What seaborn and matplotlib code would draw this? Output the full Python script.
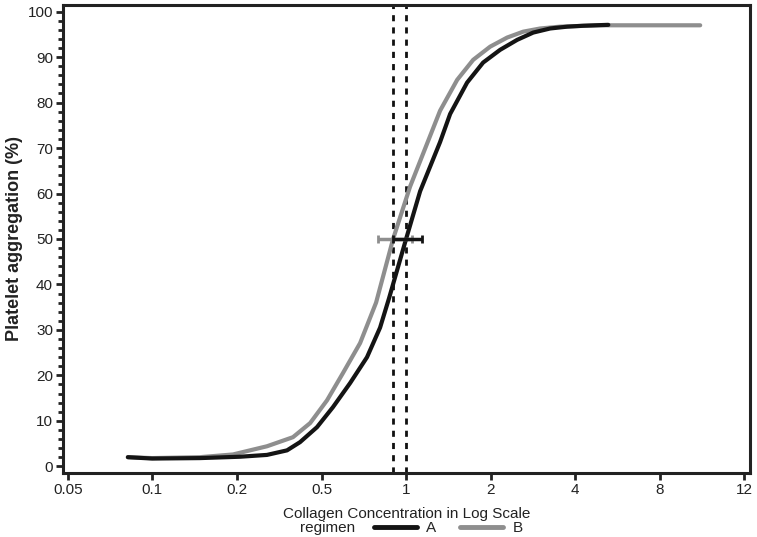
import numpy as np
import pandas as pd
import seaborn as sns
import matplotlib.pyplot as plt
from matplotlib.lines import Line2D

sns.set_style("ticks")
plt.rcParams['font.family'] = ['Liberation Sans Narrow', 'Liberation Sans', 'DejaVu Sans']

# tick values on the (ordinal) log axis
tick_values = [0.05, 0.1, 0.2, 0.5, 1, 2, 4, 8, 12]
tick_labels = ["0.05", "0.1", "0.2", "0.5", "1", "2", "4", "8", "12"]

# fitted curves
conc_a = [0.0818, 0.0998, 0.1476, 0.2067, 0.2768, 0.344, 0.396, 0.476, 0.549, 0.632,
          0.726, 0.808, 0.870, 1.0, 1.122, 1.321, 1.435, 1.649, 1.880, 2.161,
          2.486, 2.835, 3.258, 3.745, 4.27, 5.245]
aggr_a = [2.0, 1.7, 1.8, 2.1, 2.5, 3.5, 5.3, 8.6, 13.0, 18.3,
          24.0, 30.5, 37.0, 50.0, 60.5, 71.3, 77.5, 84.4, 88.8, 91.6,
          93.8, 95.4, 96.3, 96.7, 96.9, 97.1]
conc_b = [0.0818, 0.0998, 0.1476, 0.1936, 0.2768, 0.367, 0.442, 0.523, 0.596, 0.686,
          0.782, 0.899, 1.033, 1.197, 1.321, 1.52, 1.733, 1.992, 2.289,
          2.612, 3.002, 3.535, 4.910, 9.71]
aggr_b = [2.0, 1.8, 2.0, 2.6, 4.4, 6.4, 9.5, 14.5, 20.5, 27.1,
          36.0, 50.0, 61.5, 71.5, 78.2, 85.0, 89.4, 92.3, 94.3,
          95.6, 96.3, 96.7, 97.0, 97.0]

# EC50 with confidence interval
regimens = ["A", "B"]
ec50 = [1.0, 0.899]
ci_low = [0.899, 0.795]
ci_high = [1.14, 1.05]
colors = {"A": "#141414", "B": "#8e8e8e"}

df = pd.concat([
    pd.DataFrame({"conc": conc_a, "aggr": aggr_a, "regimen": "A"}),
    pd.DataFrame({"conc": conc_b, "aggr": aggr_b, "regimen": "B"}),
])

# axis spacing: each tick value one unit apart, log-interpolated in between
lt = np.log(tick_values)
idx = np.arange(len(tick_values), dtype=float)


def fwd(x):
    lx = np.log(np.clip(np.asarray(x, dtype=float), 1e-9, None))
    v = np.interp(lx, lt, idx)
    v = np.where(lx < lt[0], (lx - lt[0]) / (lt[1] - lt[0]), v)
    v = np.where(lx > lt[-1], idx[-1] + (lx - lt[-1]) / (lt[-1] - lt[-2]), v)
    return v


def inv(v):
    v = np.asarray(v, dtype=float)
    lx = np.interp(v, idx, lt)
    lx = np.where(v < 0, lt[0] + v * (lt[1] - lt[0]), lx)
    lx = np.where(v > idx[-1], lt[-1] + (v - idx[-1]) * (lt[-1] - lt[-2]), lx)
    return np.exp(lx)


fig = plt.figure(figsize=(7.57, 5.37), dpi=100)
ax = fig.add_axes([0.083, 0.119, 0.908, 0.872])
ax.set_xscale("function", functions=(fwd, inv))

sns.lineplot(data=df[df.regimen == "B"], x="conc", y="aggr", color=colors["B"],
             lw=3, sort=False, ax=ax, legend=False, zorder=3)
sns.lineplot(data=df[df.regimen == "A"], x="conc", y="aggr", color=colors["A"],
             lw=3, sort=False, ax=ax, legend=False, zorder=4)
for ln in ax.lines:
    ln.set_solid_joinstyle("round")

for e in ec50:
    ax.axvline(e, color="#111111", lw=2, ls=(0, (2.2, 2.2)), zorder=2)
for r, e, lo, hi in zip(regimens[::-1], ec50[::-1], ci_low[::-1], ci_high[::-1]):
    ax.errorbar([e], [50], xerr=[[e - lo], [hi - e]], color=colors[r], lw=2.5,
                capsize=3, capthick=2, fmt="none", zorder=5)

ax.set_xlim(0.048, 12.34)
ax.set_ylim(-1.5, 101.5)
ax.set_xticks(tick_values)
ax.set_xticklabels(tick_labels)
ax.xaxis.set_minor_locator(plt.NullLocator())
ax.set_yticks(range(0, 101, 10))
ax.set_yticks(range(0, 101, 2), minor=True)

for s in ax.spines.values():
    s.set_linewidth(2.2)
    s.set_color("#222222")
ax.tick_params(axis="both", which="major", length=5, width=2, color="#222222",
               labelsize=11, labelcolor="#222222", pad=2)
ax.tick_params(axis="y", which="minor", length=3.5, width=2, color="#222222")

ax.set_xlabel("Collagen Concentration in Log Scale", fontsize=11, color="#222222")
ax.xaxis.set_label_coords(0.5, -0.073)
ax.set_ylabel("Platelet aggregation (%)", fontsize=13, fontweight="bold",
              family=["Liberation Sans", "DejaVu Sans"], color="#222222")
ax.yaxis.set_label_coords(-0.058, 0.5)

handles = [Line2D([], [], color=colors[r], lw=3.5) for r in regimens]
fig.text(0.396, 0.017, "regimen", fontsize=11, color="#222222", ha="left", va="center")
fig.legend(handles, regimens, ncol=2, frameon=False, loc="center",
           bbox_to_anchor=(0.592, 0.017), fontsize=11, handlelength=2.8,
           columnspacing=1.6, handletextpad=0.6, borderaxespad=0, borderpad=0)

fig.savefig("out.png", dpi=100)
